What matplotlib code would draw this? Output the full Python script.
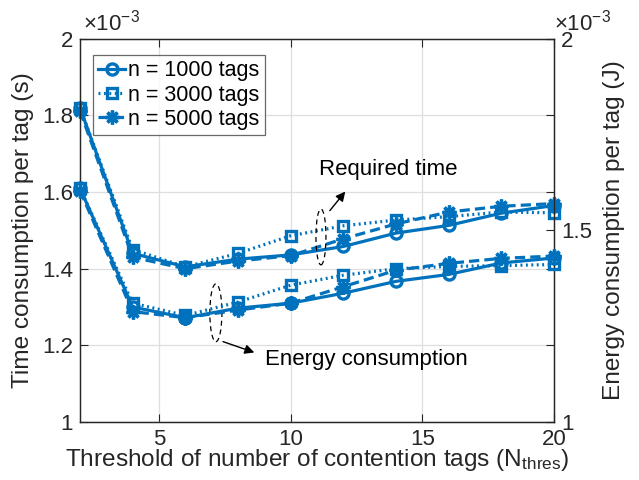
import matplotlib
matplotlib.use("Agg")
import matplotlib.pyplot as plt
from matplotlib.patches import Ellipse
from matplotlib.ticker import FuncFormatter, FixedLocator

plt.rcParams['font.family'] = ['Liberation Sans', 'DejaVu Sans']
plt.rcParams['mathtext.fontset'] = 'custom'
plt.rcParams['mathtext.rm'] = 'Liberation Sans'
plt.rcParams['mathtext.it'] = 'Liberation Sans:italic'

# ---- data ----
n_thres = [2, 4, 6, 8, 10, 12, 14, 16, 18, 20]
labels = ['n = 1000 tags', 'n = 3000 tags', 'n = 5000 tags']

time_1000 = [1.820e-3, 1.440e-3, 1.405e-3, 1.425e-3, 1.436e-3, 1.458e-3, 1.493e-3, 1.513e-3, 1.545e-3, 1.565e-3]
time_3000 = [1.820e-3, 1.450e-3, 1.405e-3, 1.440e-3, 1.486e-3, 1.512e-3, 1.527e-3, 1.536e-3, 1.548e-3, 1.546e-3]
time_5000 = [1.812e-3, 1.430e-3, 1.400e-3, 1.420e-3, 1.434e-3, 1.478e-3, 1.517e-3, 1.548e-3, 1.563e-3, 1.570e-3]

energy_1000 = [1.610e-3, 1.300e-3, 1.272e-3, 1.297e-3, 1.310e-3, 1.336e-3, 1.367e-3, 1.385e-3, 1.415e-3, 1.428e-3]
energy_3000 = [1.610e-3, 1.310e-3, 1.278e-3, 1.313e-3, 1.357e-3, 1.383e-3, 1.400e-3, 1.406e-3, 1.408e-3, 1.411e-3]
energy_5000 = [1.604e-3, 1.288e-3, 1.272e-3, 1.292e-3, 1.310e-3, 1.353e-3, 1.396e-3, 1.414e-3, 1.427e-3, 1.433e-3]

left_ticks = [1.0e-3, 1.2e-3, 1.4e-3, 1.6e-3, 1.8e-3, 2.0e-3]
right_ticks = [1.0e-3, 1.5e-3, 2.0e-3]
x_ticks = [5, 10, 15, 20]

# ---- style ----
C = '#0072BD'
AX = '#262626'
FS = 16
LFS = 17.6
lw = 2.3
styles = [
    dict(linestyle='-', marker='o', ms=8),
    dict(linestyle=(0, (0.6, 1.1)), marker='s', ms=7.5),
    dict(linestyle=(0, (3.2, 1.6)), marker=(8, 2, 0), ms=10),
]

fig = plt.figure(figsize=(6.39, 4.80), dpi=100)
ax = fig.add_axes([0.1252, 0.121, 0.7418, 0.798])
ax2 = ax.twinx()

fmt = FuncFormatter(lambda v, p: f'{v*1e3:g}')

handles = []
for ys, st, lab in zip([time_1000, time_3000, time_5000], styles, labels):
    h, = ax.plot(n_thres, ys, color=C, lw=lw, linestyle=st['linestyle'],
                 marker=st['marker'], ms=st['ms'], mfc='none', mec=C, mew=2.4,
                 label=lab, clip_on=False, zorder=3)
    handles.append(h)
for ys, st in zip([energy_1000, energy_3000, energy_5000], styles):
    ax2.plot(n_thres, ys, color=C, lw=lw, linestyle=st['linestyle'],
             marker=st['marker'], ms=st['ms'], mfc='none', mec=C, mew=2.4,
             clip_on=False, zorder=3)

for a in (ax, ax2):
    a.set_ylim(1.0e-3, 2.0e-3)
    a.set_xlim(2, 20)
    a.yaxis.set_major_formatter(fmt)
    for s in a.spines.values():
        s.set_color(AX)
        s.set_linewidth(0.9)

ax.yaxis.set_major_locator(FixedLocator(left_ticks))
ax2.yaxis.set_major_locator(FixedLocator(right_ticks))
ax.xaxis.set_major_locator(FixedLocator(x_ticks))
ax.tick_params(axis='both', direction='in', labelsize=FS, colors=AX, length=6,
               width=0.8, top=True, right=True, labelcolor='#262626', pad=5)
ax2.tick_params(axis='y', direction='in', labelsize=FS, colors=AX, length=6,
                width=0.8, labelcolor='#262626', pad=5)
ax.grid(True, color='#dedede', linewidth=0.9)
ax.set_axisbelow(True)

ax.set_xlabel(r'Threshold of number of contention tags (N$_{\mathrm{thres}}$)',
              fontsize=LFS, color='#262626', labelpad=-2)
ax.set_ylabel('Time consumption per tag (s)', fontsize=LFS, color='#262626', labelpad=6)
ax2.set_ylabel('Energy consumption per tag (J)', fontsize=LFS, color='#262626', labelpad=8)

ax.text(0.006, 1.008, r'$\times10^{-3}$', transform=ax.transAxes, fontsize=FS,
        ha='left', va='bottom', color='#262626')
ax2.text(1.0, 1.008, r'$\times10^{-3}$', transform=ax.transAxes, fontsize=FS,
         ha='left', va='bottom', color='#262626')

leg = ax.legend(handles=handles, loc='upper left', bbox_to_anchor=(0.027, 0.958),
                borderaxespad=0, fontsize=15.5, frameon=True, fancybox=False,
                edgecolor='#444444', labelspacing=0.15, borderpad=0.25,
                handlelength=1.25, handletextpad=0.15)
leg.get_frame().set_linewidth(0.9)
leg.set_zorder(10)

# annotations (ellipses, arrows, text) in data coordinates of the left axis
ax.add_patch(Ellipse((11.15, 1.483e-3), 0.38, 0.146e-3, fill=False,
                     linestyle=(0, (4, 3)), lw=0.9, edgecolor='black', zorder=5))
ax.add_patch(Ellipse((7.16, 1.285e-3), 0.46, 0.151e-3, fill=False,
                     linestyle=(0, (4, 3)), lw=0.9, edgecolor='black', zorder=5))
ax.annotate('', xy=(12.14, 1.607e-3), xytext=(11.42, 1.546e-3),
            arrowprops=dict(arrowstyle='-|>', color='black', lw=1.0, mutation_scale=14), zorder=6)
ax.annotate('', xy=(8.72, 1.179e-3), xytext=(7.33, 1.212e-3),
            arrowprops=dict(arrowstyle='-|>', color='black', lw=1.0, mutation_scale=14), zorder=6)
ax.text(11.09, 1.658e-3, 'Required time', fontsize=FS, ha='left', va='center', color='black')
ax.text(9.03, 1.162e-3, 'Energy consumption', fontsize=FS, ha='left', va='center', color='black')

fig.savefig('out.png', dpi=100)
